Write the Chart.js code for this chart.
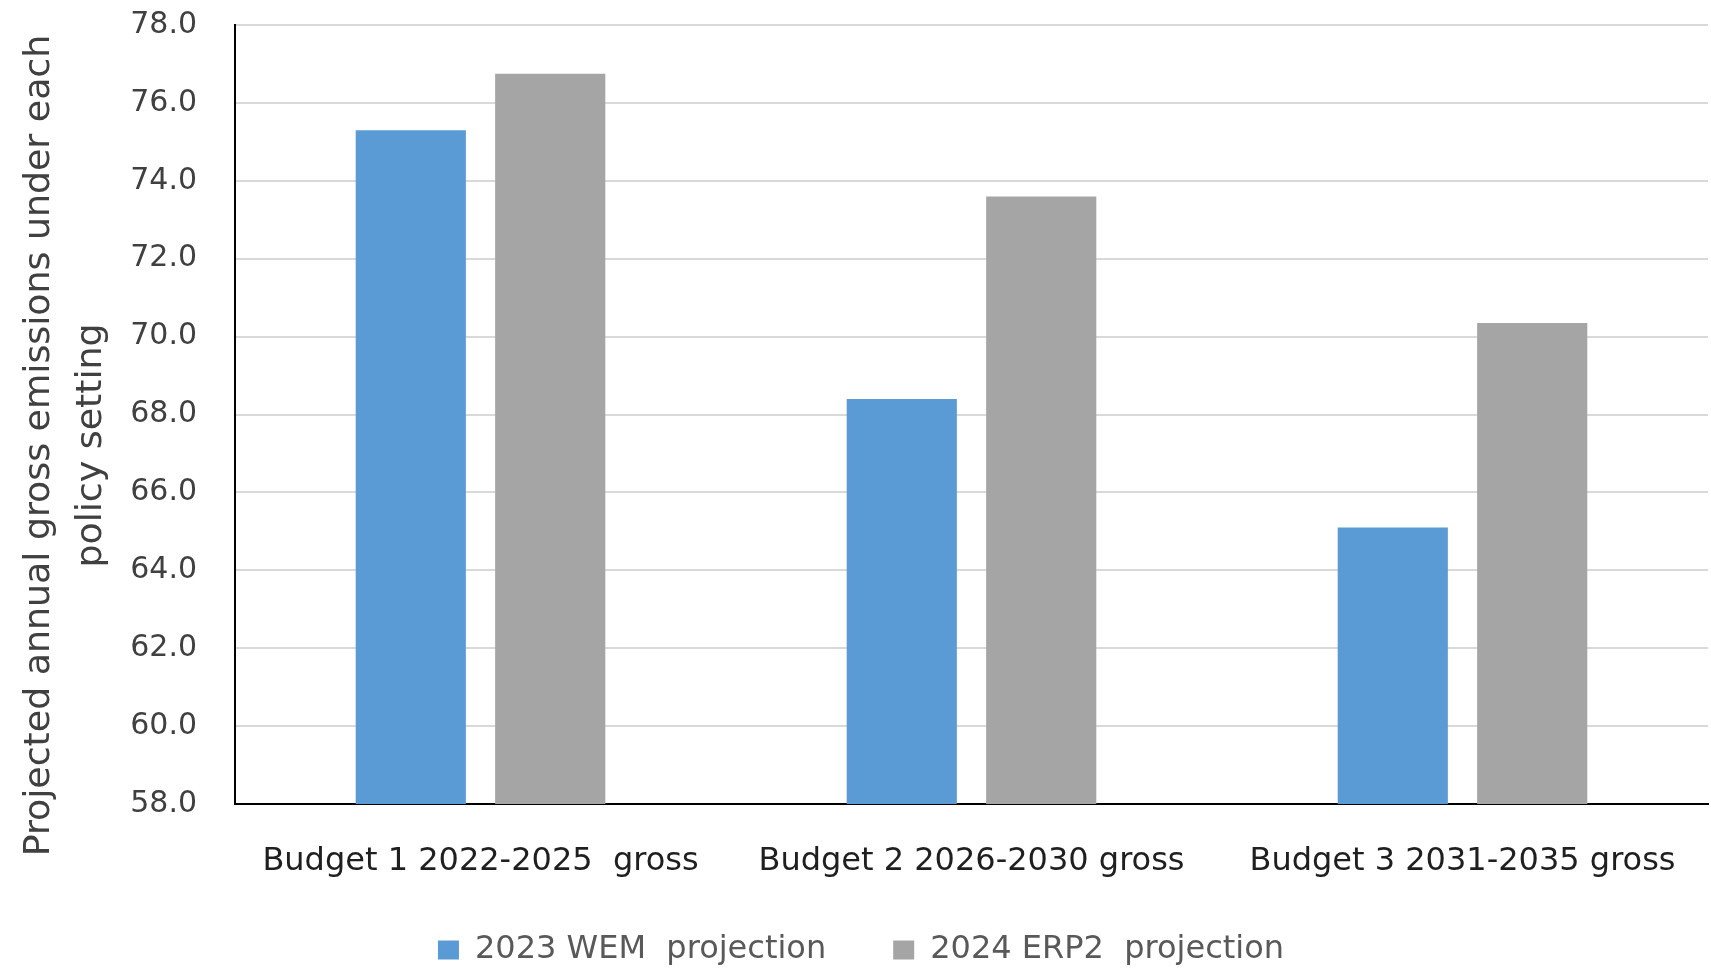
<!DOCTYPE html>
<html>
<head>
<meta charset="utf-8">
<title>Projected annual gross emissions by carbon budget</title>
<script src="https://cdn.jsdelivr.net/npm/chart.js@4/dist/chart.umd.min.js"></script>
<style>
  html, body { margin: 0; padding: 0; background: #ffffff; }
  #wrap { width: 1711px; height: 968px; }
</style>
</head>
<body>
<div id="wrap"><canvas id="chart" width="1711" height="968"></canvas></div>
<script>
// Carbon budget periods (x categories)
const categories = [
  'Budget 1 2022-2025  gross',
  'Budget 2 2026-2030 gross',
  'Budget 3 2031-2035 gross'
];

// Series names
const seriesNames = ['2023 WEM  projection', '2024 ERP2  projection'];

// Projected annual gross emissions per budget period
const wem2023 = [75.3, 68.4, 65.1];
const erp2024 = [76.75, 73.6, 70.35];

// Value axis range and tick step
const yMin = 58;
const yMax = 78;
const yStep = 2;

// Value axis title, two lines
const yTitleLines = ['Projected annual gross emissions under each', 'policy setting'];

const FONT = '"DejaVu Sans", "Liberation Sans", sans-serif';

// Rotated two-line value axis title, centred a little below the plot middle
const yTitlePlugin = {
  id: 'yTitle',
  afterDraw(chart) {
    const { ctx, chartArea } = chart;
    const cy = (chartArea.top + chartArea.bottom) / 2 + 31;
    ctx.save();
    ctx.font = '36.3px ' + FONT;
    ctx.fillStyle = '#404040';
    ctx.textAlign = 'center';
    ctx.textBaseline = 'alphabetic';
    yTitleLines.forEach((line, i) => {
      ctx.save();
      ctx.translate(49 + i * 51.5, cy);
      ctx.rotate(-Math.PI / 2);
      ctx.fillText(line, 0, 0);
      ctx.restore();
    });
    ctx.restore();
  }
};

// The legend uses a wide item spacing; raise the top of its box so the
// row sits just under the category labels, and nudge the row right a little.
const legendLiftPlugin = {
  id: 'legendLift',
  afterLayout(chart) {
    const lg = chart.legend;
    if (!lg) return;
    lg.top -= 14;
    lg.left += 14;
  }
};

new Chart(document.getElementById('chart'), {
  type: 'bar',
  data: {
    labels: categories,
    datasets: [
      {
        label: seriesNames[0],
        data: wem2023,
        backgroundColor: '#5B9BD5',
        borderWidth: 0,
        categoryPercentage: 0.568,
        barPercentage: 0.79
      },
      {
        label: seriesNames[1],
        data: erp2024,
        backgroundColor: '#A5A5A5',
        borderWidth: 0,
        categoryPercentage: 0.568,
        barPercentage: 0.79
      }
    ]
  },
  options: {
    responsive: false,
    animation: false,
    layout: { padding: { top: 25, right: 3, left: 0, bottom: 0 } },
    plugins: {
      tooltip: { enabled: false },
      legend: {
        position: 'bottom',
        maxHeight: 87,
        labels: {
          boxWidth: 21,
          boxHeight: 19,
          padding: 67,
          color: '#595959',
          font: { family: FONT, size: 32, lineHeight: 0.5 }
        }
      }
    },
    scales: {
      x: {
        grid: { display: false, drawTicks: false },
        border: { display: true, color: '#000000', width: 2 },
        ticks: {
          color: '#1f1f1f',
          padding: 38,
          font: { family: FONT, size: 32 }
        },
        afterFit(scale) {
          scale.height = 77;
          // the category labels fit inside their bands; no side padding
          scale.paddingLeft = 0;
          scale.paddingRight = 0;
        }
      },
      y: {
        min: yMin,
        max: yMax,
        grid: { color: '#d9d9d9', lineWidth: 2, drawTicks: false },
        border: { display: true, color: '#000000', width: 2 },
        ticks: {
          stepSize: yStep,
          color: '#404040',
          padding: 38,
          font: { family: FONT, size: 30 },
          callback: (v) => Number(v).toFixed(1)
        },
        afterFit(scale) {
          scale.width = 235;
          // end labels only need half their height above/below the plot
          scale.paddingTop = 18;
          scale.paddingBottom = 18;
        }
      }
    }
  },
  plugins: [yTitlePlugin, legendLiftPlugin]
});
</script>
</body>
</html>
